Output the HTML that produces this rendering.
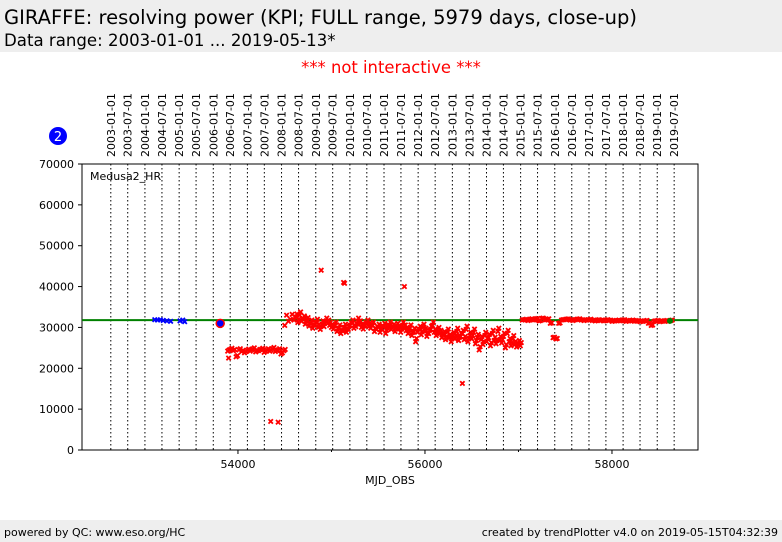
<!DOCTYPE html>
<html><head><meta charset="utf-8"><style>
body{margin:0;width:782px;height:542px;background:#fff;font-family:"DejaVu Sans","Liberation Sans",sans-serif;position:relative;overflow:hidden}
.bar{position:absolute;left:0;width:782px;background:#eeeeee}
svg text{font-family:"DejaVu Sans","Liberation Sans",sans-serif}
</style></head><body>
<div class="bar" style="top:0;height:52px">
<div style="position:absolute;left:4px;top:6px;font-size:19.5px">GIRAFFE: resolving power (KPI; FULL range, 5979 days, close-up)</div>
<div style="position:absolute;left:4px;top:31px;font-size:16.6px">Data range: 2003-01-01 ... 2019-05-13*</div>
</div>
<div style="position:absolute;left:0;width:782px;top:58px;text-align:center;color:#f00;font-size:16.4px">*** not interactive ***</div>
<div class="bar" style="top:520px;height:22px;font-size:11px">
<span style="position:absolute;left:4px;top:6px">powered by QC: www.eso.org/HC</span>
<span style="position:absolute;right:4px;top:6px">created by trendPlotter v4.0 on 2019-05-15T04:32:39</span>
</div>
<svg id="c" width="782" height="542" style="position:absolute;left:0;top:0"></svg>
<script>
const yTicks=[0,10000,20000,30000,40000,50000,60000,70000];
const xTicks=[54000,56000,58000];
const xMinor=[55000,57000];
const refValue=31800;
const blueMjd=[53110,53140,53170,53200,53240,53280,53380,53410,53430];
const blueVal=[31900,31800,31900,31700,31600,31500,31600,31800,31400];
const lowVal=[24200,24600,24300,22800,24500,24100,23800,24400,24200,24700,24000,24300,24600,23900,24500,24200,24800,24100,24500,23500,24300];
const jumpMjd=[54500,54520,54540,54560,54580];
const jumpVal=[30500,33000,31500,32000,33200];
const midVal=[318,325,312,330,315,320,308,316,303,310,298,305,312,300,295,308,302,315,310,305,
300,296,305,290,298,285,292,300,288,295,305,310,298,302,315,308,300,296,305,310,
302,298,305,290,295,300,288,296,302,285,298,305,295,300,290,302,296,288,305,298,
292,285,298,280,290,265,288,295,282,300,290,278,285,295,305,288,280,292,285,275,
282,270,288,275,265,280,272,290,268,278,285,270,295,265,280,272,288,260,275,245,
270,258,280,265,275,255,285,268,260,290,270,262,278,250,285,265,255,272,258,252,260,255];
const lateVal=[318,319,317,320,318,321,316,322,318,320,310,275,272,310,318,319,320,318,317,319,320,318,317,318,319,317,316,318,317,316,318,317,315,316,317,316,318,315,316,317,315,316,314,315,316,310,305,315,316,314,315,316,315,317];
const outMjd=[54890,55130,55140,55780,56400,54350,54430,53810,53900];
const outVal=[44000,41000,40800,40000,16300,7000,6800,31200,22500];
const blueCircle=[53810,31000];
const greenEnd=[58620,31600];

const L=82,R=698,T=164,B=450,X0=52332,X1=58920;
const sx=m=>L+(m-X0)/(X1-X0)*(R-L);
const sy=v=>B-v/70000*(B-T);
const svg=document.getElementById('c');
const NS='http://www.w3.org/2000/svg';
function mk(t,a,p){const e=document.createElementNS(NS,t);for(const k in a)e.setAttribute(k,a[k]);(p||svg).appendChild(e);return e;}
for(let y=2003;y<=2019;y++){for(const mo of [0,6]){
 const mjd=Date.UTC(y,mo,1)/86400000+40587;const x=sx(mjd);
 const ln=mk('line',{x1:x,x2:x,y1:T,y2:B,stroke:'#000','stroke-width':1,'stroke-dasharray':'1.5,2.5'});
 
 const s=y+'-'+(mo?'07':'01')+'-01';
 const t=mk('text',{x:0,y:0,transform:`translate(${x+4},157) rotate(-90)`,'font-size':11,fill:'#000'});t.textContent=s;
 
}}
const fr=mk('rect',{x:L,y:T,width:R-L,height:B-T,fill:'none',stroke:'#000','stroke-width':1});

yTicks.forEach(v=>{const y=sy(v);mk('line',{x1:L-4,x2:L,y1:y,y2:y,stroke:'#000'});
 const t=mk('text',{x:L-8,y:y+4,'text-anchor':'end','font-size':11});t.textContent=v;
 });
xTicks.forEach(v=>{const x=sx(v);mk('line',{x1:x,x2:x,y1:B,y2:B+4,stroke:'#000'});
 const t=mk('text',{x:x,y:B+18,'text-anchor':'middle','font-size':11});t.textContent=v;
 });
xMinor.forEach(v=>{const x=sx(v);mk('line',{x1:x,x2:x,y1:B,y2:B+2,stroke:'#000'});});
const xl=mk('text',{x:(L+R)/2,y:484,'text-anchor':'middle','font-size':11});xl.textContent='MJD_OBS';

const lb=mk('text',{x:90,y:180,'font-size':11});lb.textContent='Medusa2_HR';

const rl=mk('line',{x1:L,x2:R,y1:sy(refValue),y2:sy(refValue),stroke:'#008000','stroke-width':2});

function cross(m,v,col){const x=sx(m),y=sy(v),d=2.2;
 const g=mk('path',{d:`M${x-d},${y-d}L${x+d},${y+d}M${x-d},${y+d}L${x+d},${y-d}`,stroke:col,'stroke-width':1.8});
 }
blueMjd.forEach((m,i)=>cross(m,blueVal[i],'#0000ff'));
lowVal.forEach((v,i)=>{cross(53890+i*30,v,'#ff0000');cross(53905+i*30,v+300,'#ff0000');});
jumpMjd.forEach((m,i)=>cross(m,jumpVal[i],'#ff0000'));
midVal.forEach((v,i)=>{cross(54600+i*20,v*100,'#ff0000');cross(54610+i*20,v*100+800,'#ff0000');});
lateVal.forEach((v,i)=>{cross(57040+i*30,v*100,'#ff0000');cross(57055+i*30,v*100+100,'#ff0000');});
outMjd.forEach((m,i)=>cross(m,outVal[i],'#ff0000'));
const bc=mk('circle',{cx:sx(blueCircle[0]),cy:sy(blueCircle[1]),r:4,fill:'#0000ff',stroke:'#ff0000','stroke-width':1.5});

const gd=mk('circle',{cx:sx(greenEnd[0]),cy:sy(greenEnd[1]),r:3,fill:'#008000'});

const bd=mk('circle',{cx:58,cy:136,r:9,fill:'#0000ff'});

const bt=mk('text',{x:58,y:141,'text-anchor':'middle','font-size':13,fill:'#fff'});bt.textContent='2';

</script>
</body></html>
